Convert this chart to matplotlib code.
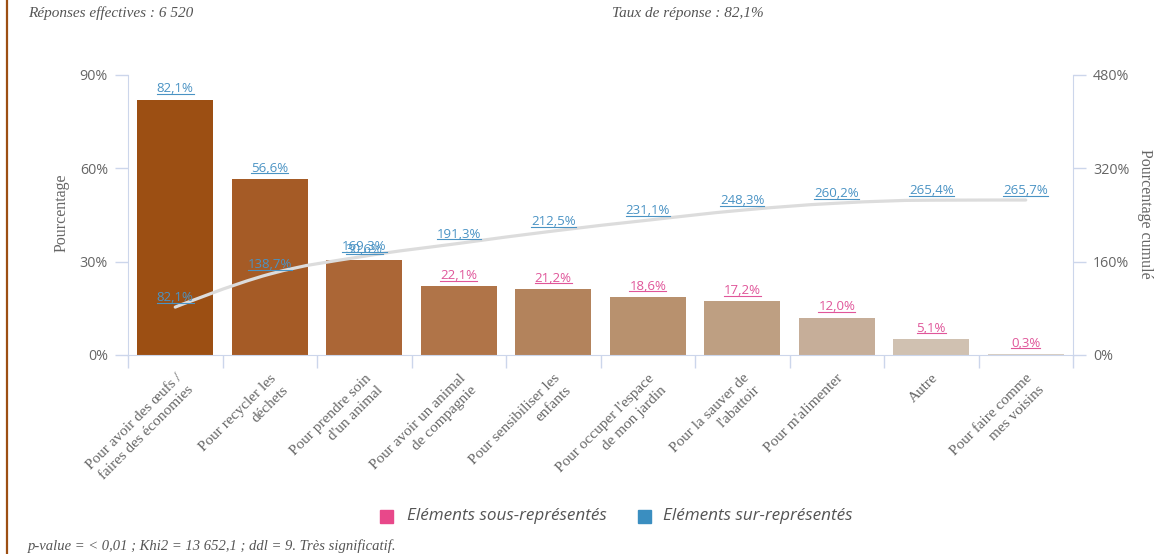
import numpy as np
import matplotlib
matplotlib.use("Agg")
import matplotlib.pyplot as plt
from matplotlib.path import Path
from matplotlib.patches import PathPatch, Rectangle
from matplotlib.lines import Line2D

# ---------------- data ----------------
categories = [
    "Pour avoir des œufs /\nfaires des économies",
    "Pour recycler les\ndéchets",
    "Pour prendre soin\nd'un animal",
    "Pour avoir un animal\nde compagnie",
    "Pour sensibiliser les\nenfants",
    "Pour occuper l'espace\nde mon jardin",
    "Pour la sauver de\nl'abattoir",
    "Pour m'alimenter",
    "Autre",
    "Pour faire comme\nmes voisins",
]
percent = [82.1, 56.6, 30.6, 22.1, 21.2, 18.6, 17.2, 12.0, 5.1, 0.3]
cumul = [82.1, 138.7, 169.3, 191.3, 212.5, 231.1, 248.3, 260.2, 265.4, 265.7]
over_represented = [True, True, True, False, False, False, False, False, False, False]
left_ticks = [0, 30, 60, 90]
right_ticks = [0, 160, 320, 480]

# ---------------- style ----------------
bar_colors = ['#9c4f13', '#a55b26', '#ab6636', '#b07448', '#b3835c',
              '#b8916e', '#be9f82', '#c6ae99', '#d0c1b1', '#d8cec2']
BLUE = '#4a93c4'
PINK = '#e0569a'
AXIS = '#ccd6eb'
GREY = '#666666'

W, H = 1166, 554
fig = plt.figure(figsize=(W / 100, H / 100), dpi=100)
L, R, T, B = 128, 1073, 75, 355
ax = fig.add_axes([L / W, 1 - B / H, (R - L) / W, (B - T) / H])
ax2 = ax.twinx()

x = np.arange(len(categories))
ax.bar(x, percent, width=0.8, color=bar_colors, zorder=2)
ax.set_xlim(-0.5, len(categories) - 0.5)
ax.set_ylim(0, 90)
ax2.set_ylim(0, 480)

# axes styling
for a in (ax, ax2):
    for s in a.spines.values():
        s.set_visible(False)
ax.spines['left'].set_visible(True)
ax.spines['left'].set_color(AXIS)
ax.spines['bottom'].set_visible(True)
ax.spines['bottom'].set_color(AXIS)
ax2.spines['right'].set_visible(True)
ax2.spines['right'].set_color(AXIS)

ax.set_yticks(left_ticks)
ax.set_yticklabels([f"{v}%" for v in left_ticks])
ax2.set_yticks(right_ticks)
ax2.set_yticklabels([f"{v}%" for v in right_ticks])
for a in (ax, ax2):
    a.tick_params(axis='y', length=9.4, width=1, color=AXIS, pad=5,
                  labelsize=10.3, labelcolor=GREY)
    for lab in a.get_yticklabels():
        lab.set_fontfamily('Open Sans')

ax.set_xticks(x)
ax.set_xticklabels(categories, rotation=45, ha='right', va='top',
                   rotation_mode='anchor', fontfamily='Liberation Serif',
                   fontsize=11, color=GREY, multialignment='right',
                   linespacing=1.35)
ax.tick_params(axis='x', length=0, pad=12)
ax.set_xticks(np.arange(-0.5, len(categories), 1.0), minor=True)
ax.tick_params(axis='x', which='minor', length=9.4, width=1, color=AXIS)

# cumulative spline (Highcharts-like smoothing)
xs = x.astype(float)
ys = np.array(cumul, dtype=float)
n = len(xs)
lc = [(xs[i], ys[i]) for i in range(n)]
rc = [(xs[i], ys[i]) for i in range(n)]
sm, den = 1.5, 2.5
for i in range(1, n - 1):
    lx = (sm * xs[i] + xs[i - 1]) / den
    ly = (sm * ys[i] + ys[i - 1]) / den
    rx = (sm * xs[i] + xs[i + 1]) / den
    ry = (sm * ys[i] + ys[i + 1]) / den
    corr = ((ry - ly) * (rx - xs[i])) / (rx - lx) + ys[i] - ry
    ly += corr
    ry += corr
    if ly > max(ys[i - 1], ys[i]):
        ly = max(ys[i - 1], ys[i]); ry = 2 * ys[i] - ly
    elif ly < min(ys[i - 1], ys[i]):
        ly = min(ys[i - 1], ys[i]); ry = 2 * ys[i] - ly
    if ry > max(ys[i + 1], ys[i]):
        ry = max(ys[i + 1], ys[i]); ly = 2 * ys[i] - ry
    elif ry < min(ys[i + 1], ys[i]):
        ry = min(ys[i + 1], ys[i]); ly = 2 * ys[i] - ry
    lc[i] = (lx, ly)
    rc[i] = (rx, ry)
verts = [(xs[0], ys[0])]
codes = [Path.MOVETO]
for i in range(n - 1):
    verts += [rc[i], lc[i + 1], (xs[i + 1], ys[i + 1])]
    codes += [Path.CURVE4] * 3
ax2.add_patch(PathPatch(Path(verts, codes), facecolor='none',
                        edgecolor='#dcdcdc', lw=2.3, capstyle='round', zorder=3))

# labels
texts = []
for i in range(n):
    c = BLUE if over_represented[i] else PINK
    t = ax.annotate(f"{percent[i]:.1f}%".replace('.', ','), (x[i], percent[i]),
                    xytext=(0, 3), textcoords='offset points', ha='center',
                    va='bottom', fontsize=9.5, color=c, fontfamily='Open Sans', zorder=5)
    texts.append((t, c))
for i in range(n):
    t = ax2.annotate(f"{cumul[i]:.1f}%".replace('.', ','), (x[i], cumul[i]),
                     xytext=(0, 2), textcoords='offset points', ha='center',
                     va='bottom', fontsize=9.5, color=BLUE, fontfamily='Open Sans', zorder=5)
    texts.append((t, BLUE))

# axis titles
fig.text(62 / W, 1 - 213 / H, "Pourcentage", rotation=90, ha='center', va='center',
         fontsize=11.5, color=GREY, fontfamily='Liberation Serif')
fig.text(1145 / W, 1 - 214 / H, "Pourcentage cumulé", rotation=270, ha='center',
         va='center', fontsize=11.5, color=GREY, fontfamily='Liberation Serif')

# header / footer
fig.text(28 / W, 1 - 13 / H, "Réponses effectives : 6 520", ha='left', va='center',
         fontsize=11, style='italic', color='#555555', fontfamily='Liberation Serif')
fig.text(612 / W, 1 - 13 / H, "Taux de réponse : 82,1%", ha='left', va='center',
         fontsize=11, style='italic', color='#555555', fontfamily='Liberation Serif')
fig.text(28 / W, 1 - 546 / H,
         "p-value = < 0,01 ; Khi2 = 13 652,1 ; ddl = 9. Très significatif.",
         ha='left', va='center', fontsize=10.5, style='italic', color='#555555',
         fontfamily='Liberation Serif')

# legend
for sx, col, lab, tx in [(380, '#e8488a', "Eléments sous-représentés", 407),
                         (638, '#3a8ec0', "Eléments sur-représentés", 663)]:
    fig.patches.append(Rectangle((sx / W, 1 - 523 / H), 13 / W, 13 / H,
                                 transform=fig.transFigure, color=col))
    fig.text(tx / W, 1 - 516 / H, lab, ha='left', va='center', fontsize=12.3,
             style='italic', color='#555555', fontfamily='Open Sans')

# left border
fig.add_artist(Line2D([7 / W, 7 / W], [0, 1], transform=fig.transFigure,
                      color='#9c4f13', lw=1.6))

# underline labels
fig.canvas.draw()
r = fig.canvas.get_renderer()
for t, c in texts:
    bb = t.get_window_extent(r)
    yy = bb.y0 + 1.5
    fig.add_artist(Line2D([bb.x0 / W, bb.x1 / W], [yy / H, yy / H],
                          transform=fig.transFigure, color=c, lw=0.8, zorder=6))

fig.savefig("out.png", dpi=100)
